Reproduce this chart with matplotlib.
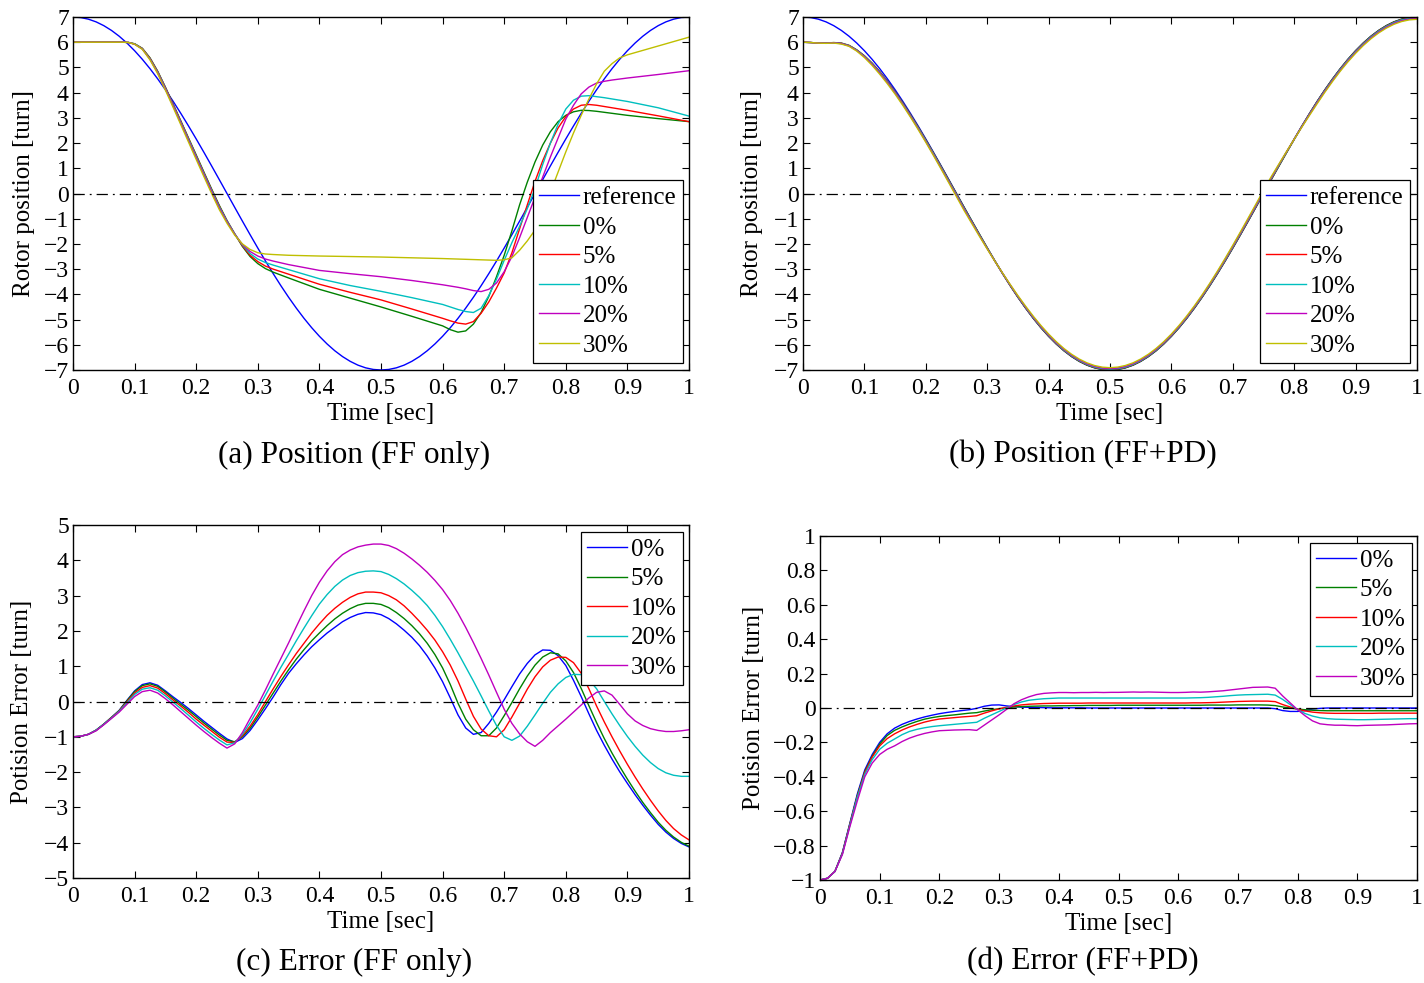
import matplotlib
matplotlib.use("Agg")
import matplotlib.pyplot as plt
import numpy as np

plt.rcParams['font.family'] = ['Liberation Serif', 'DejaVu Serif']

# MATLAB default colours
MB = (0, 0, 1)
MG = (0, 0.5, 0)
MR = (1, 0, 0)
MC = (0, 0.75, 0.75)
MM = (0.75, 0, 0.75)
MY = (0.75, 0.75, 0)

pct_labels = ['0%', '5%', '10%', '20%', '30%']

# time grid (0.0125 s) used by the reference and panels (b)-(d)
t_fine = [i * 0.0125 for i in range(81)]

# reference trajectory read from (a)/(b)
ref = [7.0, 6.978, 6.914, 6.807, 6.657, 6.467, 6.237, 5.968, 5.663, 5.323,
       4.95, 4.546, 4.115, 3.658, 3.178, 2.679, 2.163, 1.634, 1.095, 0.549,
       0.0, -0.549, -1.095, -1.634, -2.163, -2.679, -3.178, -3.658, -4.115, -4.546,
       -4.95, -5.323, -5.663, -5.968, -6.237, -6.467, -6.657, -6.807, -6.914, -6.978,
       -7.0, -6.978, -6.914, -6.807, -6.657, -6.467, -6.237, -5.968, -5.663, -5.323,
       -4.95, -4.546, -4.115, -3.658, -3.178, -2.679, -2.163, -1.634, -1.095, -0.549,
       0.0, 0.549, 1.095, 1.634, 2.163, 2.679, 3.178, 3.658, 4.115, 4.546,
       4.95, 5.323, 5.663, 5.968, 6.237, 6.467, 6.657, 6.807, 6.914, 6.978, 7.0]

# ---- (a) position, FF only ----
t_a = [0, 0.05, 0.08, 0.09, 0.1, 0.1125, 0.125, 0.1375, 0.15, 0.1625,
       0.175, 0.1875, 0.2, 0.2125, 0.225, 0.2375, 0.25, 0.2625, 0.275, 0.2875,
       0.3, 0.3125, 0.325, 0.35, 0.4, 0.45, 0.5, 0.55, 0.6, 0.6125,
       0.625, 0.6375, 0.65, 0.6625, 0.675, 0.6875, 0.7, 0.7125, 0.725, 0.7375,
       0.75, 0.7625, 0.775, 0.7875, 0.8, 0.8125, 0.825, 0.8375, 0.85, 0.8625,
       0.875, 0.8875, 0.9, 0.95, 1.0]
pos_ff_0 = [6.0, 6.0, 6.0, 5.99, 5.94, 5.76, 5.38, 4.85, 4.22, 3.55,
            2.88, 2.2, 1.53, 0.85, 0.18, -0.47, -1.07, -1.6, -2.1, -2.5,
            -2.78, -2.98, -3.12, -3.35, -3.8, -4.15, -4.5, -4.87, -5.25, -5.4,
            -5.5, -5.45, -5.18, -4.72, -4.08, -3.3, -2.45, -1.48, -0.45, 0.45,
            1.25, 1.92, 2.45, 2.85, 3.1, 3.24, 3.3, 3.29, 3.26, 3.22,
            3.18, 3.14, 3.1, 2.97, 2.85]
pos_ff_5 = [6.0, 6.0, 6.0, 5.99, 5.93, 5.75, 5.36, 4.83, 4.2, 3.53,
            2.86, 2.18, 1.5, 0.82, 0.15, -0.5, -1.09, -1.6, -2.07, -2.45,
            -2.7, -2.88, -3.0, -3.2, -3.6, -3.92, -4.22, -4.58, -4.95, -5.05,
            -5.14, -5.18, -5.08, -4.75, -4.3, -3.75, -3.15, -2.35, -1.4, -0.45,
            0.48, 1.3, 2.0, 2.6, 3.05, 3.35, 3.5, 3.53, 3.5, 3.45,
            3.4, 3.35, 3.3, 3.08, 2.85]
pos_ff_10 = [6.0, 6.0, 6.0, 5.99, 5.93, 5.74, 5.34, 4.81, 4.18, 3.5,
             2.83, 2.15, 1.47, 0.79, 0.12, -0.53, -1.1, -1.6, -2.04, -2.38,
             -2.6, -2.74, -2.84, -3.02, -3.38, -3.65, -3.88, -4.13, -4.4, -4.5,
             -4.6, -4.68, -4.72, -4.55, -4.05, -3.4, -2.65, -1.95, -1.3, -0.6,
             0.2, 1.15, 2.0, 2.75, 3.35, 3.7, 3.86, 3.88, 3.84, 3.8,
             3.75, 3.7, 3.65, 3.4, 3.07]
pos_ff_20 = [6.0, 6.0, 6.0, 5.99, 5.92, 5.73, 5.32, 4.78, 4.15, 3.47,
             2.79, 2.1, 1.42, 0.74, 0.07, -0.58, -1.13, -1.62, -2.02, -2.3,
             -2.48, -2.6, -2.68, -2.82, -3.05, -3.18, -3.3, -3.45, -3.62, -3.67,
             -3.72, -3.78, -3.85, -3.89, -3.8, -3.55, -3.1, -2.5, -1.75, -0.95,
             -0.15, 0.65, 1.45, 2.2, 2.95, 3.5, 3.95, 4.22, 4.38, 4.45,
             4.5, 4.54, 4.58, 4.72, 4.87]
pos_ff_30 = [6.0, 6.0, 6.0, 5.99, 5.92, 5.72, 5.3, 4.75, 4.1, 3.42,
             2.73, 2.04, 1.35, 0.67, 0.0, -0.64, -1.18, -1.65, -2.0, -2.22,
             -2.35, -2.4, -2.42, -2.45, -2.48, -2.5, -2.52, -2.55, -2.58, -2.59,
             -2.6, -2.61, -2.62, -2.63, -2.64, -2.65, -2.63, -2.55, -2.25, -1.88,
             -1.45, -0.75, 0.05, 0.85, 1.65, 2.4, 3.1, 3.75, 4.35, 4.85,
             5.15, 5.38, 5.5, 5.85, 6.2]

# ---- (c) error, FF only (t_fine) ----
err_ff_0 = [-1.0, -0.985, -0.93, -0.81, -0.64, -0.45, -0.25, 0.03, 0.3, 0.48,
            0.53, 0.46, 0.3, 0.13, -0.03, -0.2, -0.38, -0.56, -0.73, -0.9,
            -1.06, -1.16, -1.05, -0.82, -0.52, -0.2, 0.13, 0.48, 0.8, 1.07,
            1.32, 1.55, 1.75, 1.94, 2.1, 2.26, 2.38, 2.47, 2.52, 2.51,
            2.46, 2.35, 2.2, 2.02, 1.82, 1.58, 1.29, 0.95, 0.56, 0.1,
            -0.38, -0.75, -0.93, -0.88, -0.62, -0.3, 0.05, 0.42, 0.78, 1.08,
            1.32, 1.46, 1.45, 1.3, 1.02, 0.6, 0.14, -0.35, -0.82, -1.24,
            -1.63, -1.99, -2.32, -2.64, -2.94, -3.22, -3.48, -3.7, -3.88, -4.02, -4.12]
err_ff_5 = [-1.0, -0.985, -0.93, -0.81, -0.64, -0.45, -0.26, 0.02, 0.28, 0.45,
            0.5, 0.43, 0.27, 0.09, -0.08, -0.25, -0.43, -0.61, -0.78, -0.95,
            -1.1, -1.14, -1.0, -0.76, -0.44, -0.1, 0.24, 0.58, 0.9, 1.2,
            1.47, 1.72, 1.94, 2.15, 2.34, 2.5, 2.63, 2.73, 2.78, 2.78,
            2.75, 2.66, 2.52, 2.35, 2.15, 1.92, 1.65, 1.33, 0.95, 0.48,
            -0.05, -0.5, -0.8, -0.97, -0.97, -0.75, -0.4, -0.03, 0.36, 0.72,
            1.03, 1.26, 1.38, 1.35, 1.15, 0.82, 0.37, -0.12, -0.6, -1.05,
            -1.46, -1.84, -2.2, -2.54, -2.86, -3.15, -3.42, -3.65, -3.84, -3.99, -4.1]
err_ff_10 = [-1.0, -0.985, -0.93, -0.82, -0.65, -0.46, -0.27, -0.01, 0.24, 0.4,
             0.45, 0.38, 0.22, 0.04, -0.13, -0.31, -0.5, -0.67, -0.84, -1.01,
             -1.15, -1.16, -0.97, -0.7, -0.37, 0.0, 0.36, 0.71, 1.04, 1.36,
             1.65, 1.94, 2.2, 2.44, 2.64, 2.81, 2.95, 3.05, 3.1, 3.1,
             3.08, 3.0, 2.88, 2.71, 2.5, 2.27, 2.02, 1.74, 1.41, 1.03,
             0.58, 0.07, -0.42, -0.78, -0.97, -1.0, -0.8, -0.44, -0.05, 0.35,
             0.7, 0.98, 1.17, 1.26, 1.25, 1.1, 0.8, 0.36, -0.13, -0.58,
             -1.0, -1.4, -1.78, -2.14, -2.48, -2.8, -3.1, -3.37, -3.6, -3.78, -3.92]
err_ff_20 = [-1.0, -0.985, -0.93, -0.82, -0.65, -0.47, -0.28, -0.04, 0.2, 0.35,
             0.39, 0.32, 0.16, -0.02, -0.2, -0.39, -0.58, -0.76, -0.93, -1.09,
             -1.23, -1.17, -0.93, -0.6, -0.22, 0.18, 0.58, 0.97, 1.34, 1.72,
             2.08, 2.43, 2.76, 3.03, 3.26, 3.44, 3.57, 3.65, 3.69, 3.7,
             3.68, 3.6, 3.48, 3.33, 3.15, 2.95, 2.72, 2.44, 2.12, 1.76,
             1.38, 0.98, 0.58, 0.16, -0.27, -0.68, -1.0, -1.1, -0.98, -0.7,
             -0.38, -0.05, 0.26, 0.5, 0.68, 0.77, 0.76, 0.62, 0.36, 0.0,
             -0.35, -0.68, -0.99, -1.27, -1.52, -1.73, -1.9, -2.02, -2.09, -2.12, -2.12]
err_ff_30 = [-1.0, -0.985, -0.93, -0.83, -0.66, -0.48, -0.3, -0.08, 0.14, 0.28,
             0.32, 0.24, 0.08, -0.1, -0.29, -0.48, -0.67, -0.85, -1.02, -1.18,
             -1.32, -1.2, -0.88, -0.48, -0.1, 0.33, 0.78, 1.22, 1.66, 2.12,
             2.57, 3.0, 3.38, 3.7, 3.96, 4.16, 4.29, 4.38, 4.43, 4.46,
             4.46, 4.42, 4.33, 4.2, 4.04, 3.86, 3.66, 3.43, 3.17, 2.86,
             2.5, 2.1, 1.67, 1.22, 0.75, 0.26, -0.22, -0.62, -0.92, -1.14,
             -1.27, -1.1, -0.88, -0.69, -0.5, -0.3, -0.1, 0.1, 0.26, 0.3,
             0.18, -0.08, -0.35, -0.55, -0.68, -0.77, -0.82, -0.85, -0.85, -0.83, -0.8]

# ---- (d) error, FF+PD (t_fine) ----
err_pd_0 = [-1.0, -0.99, -0.95, -0.84, -0.67, -0.5, -0.36, -0.27, -0.2, -0.15,
            -0.117, -0.095, -0.078, -0.064, -0.052, -0.042, -0.033, -0.026, -0.02, -0.015,
            -0.01, -0.002, 0.01, 0.017, 0.018, 0.012, 0.008, 0.005, 0.004, 0.003,
            0.002, 0.001, 0.001, 0.001, 0.001, 0.001, 0.0, 0.0, 0.0, 0.0,
            0.0, 0.0, 0.0, 0.0, 0.0, 0.0, 0.0, 0.0, 0.0, 0.0,
            0.0, 0.0, 0.0, 0.0, 0.0, 0.0, 0.0, 0.0, 0.0, 0.0,
            0.0, -0.004, -0.015, -0.02, -0.02, -0.015, -0.006, -0.002, 0.0, 0.0,
            0.0, 0.0, 0.0, 0.0, 0.0, 0.0, 0.0, 0.0, 0.0, 0.0, 0.0]
err_pd_5 = [-1.0, -0.99, -0.95, -0.843, -0.675, -0.51, -0.37, -0.28, -0.21, -0.16,
            -0.13, -0.11, -0.093, -0.078, -0.065, -0.056, -0.049, -0.044, -0.04, -0.035,
            -0.03, -0.027, -0.018, -0.01, -0.004, 0.001, 0.006, 0.008, 0.01, 0.011,
            0.012, 0.012, 0.013, 0.013, 0.014, 0.014, 0.015, 0.015, 0.015, 0.015,
            0.016, 0.016, 0.016, 0.016, 0.016, 0.016, 0.016, 0.016, 0.016, 0.016,
            0.016, 0.016, 0.017, 0.017, 0.017, 0.017, 0.018, 0.018, 0.018, 0.018,
            0.017, 0.014, 0.006, 0.0, -0.006, -0.01, -0.013, -0.015, -0.016, -0.016,
            -0.016, -0.016, -0.016, -0.016, -0.016, -0.016, -0.016, -0.016, -0.016, -0.016, -0.016]
err_pd_10 = [-1.0, -0.99, -0.95, -0.845, -0.678, -0.515, -0.375, -0.285, -0.22, -0.178,
             -0.15, -0.128, -0.11, -0.095, -0.082, -0.072, -0.064, -0.06, -0.056, -0.052,
             -0.049, -0.045, -0.03, -0.017, -0.005, 0.004, 0.012, 0.018, 0.022, 0.024,
             0.026, 0.027, 0.028, 0.028, 0.028, 0.028, 0.029, 0.029, 0.029, 0.029,
             0.029, 0.029, 0.029, 0.029, 0.029, 0.029, 0.029, 0.029, 0.029, 0.029,
             0.03, 0.03, 0.031, 0.032, 0.034, 0.036, 0.038, 0.039, 0.04, 0.04,
             0.04, 0.037, 0.02, 0.006, -0.008, -0.017, -0.024, -0.028, -0.03, -0.031,
             -0.031, -0.031, -0.031, -0.031, -0.031, -0.03, -0.03, -0.03, -0.03, -0.03, -0.03]
err_pd_20 = [-1.0, -0.99, -0.95, -0.848, -0.683, -0.52, -0.385, -0.3, -0.24, -0.205,
             -0.18, -0.155, -0.136, -0.124, -0.115, -0.108, -0.103, -0.099, -0.095, -0.091,
             -0.087, -0.083, -0.06, -0.04, -0.02, 0.0, 0.02, 0.035, 0.045, 0.05,
             0.054, 0.056, 0.058, 0.058, 0.058, 0.058, 0.058, 0.058, 0.058, 0.058,
             0.058, 0.058, 0.058, 0.058, 0.058, 0.058, 0.058, 0.058, 0.058, 0.058,
             0.059, 0.06, 0.062, 0.065, 0.068, 0.072, 0.075, 0.077, 0.078, 0.079,
             0.08, 0.075, 0.05, 0.02, -0.01, -0.032, -0.047, -0.057, -0.062, -0.065,
             -0.066, -0.067, -0.068, -0.068, -0.067, -0.066, -0.065, -0.064, -0.063, -0.062, -0.062]
err_pd_30 = [-1.0, -0.99, -0.95, -0.852, -0.69, -0.54, -0.40, -0.32, -0.27, -0.24,
             -0.22, -0.195, -0.175, -0.16, -0.148, -0.139, -0.132, -0.13, -0.128, -0.127,
             -0.126, -0.13, -0.1, -0.07, -0.04, -0.008, 0.025, 0.048, 0.065, 0.078,
             0.085, 0.088, 0.09, 0.09, 0.089, 0.09, 0.09, 0.091, 0.09, 0.091,
             0.091, 0.092, 0.093, 0.092, 0.093, 0.092, 0.091, 0.09, 0.09, 0.091,
             0.093, 0.092, 0.094, 0.097, 0.1, 0.105, 0.11, 0.115, 0.12, 0.121,
             0.122, 0.115, 0.07, 0.03, -0.01, -0.045, -0.075, -0.092, -0.097, -0.1,
             -0.1, -0.102, -0.103, -0.101, -0.1, -0.099, -0.098, -0.096, -0.094, -0.092, -0.091]

err_pd = [err_pd_0, err_pd_5, err_pd_10, err_pd_20, err_pd_30]
# (b) is the reference plus the FF+PD tracking error of (d)
pos_pd = [np.add(ref, e) for e in err_pd]

y_ticks_d = [-1, -0.8, -0.6, -0.4, -0.2, 0, 0.2, 0.4, 0.6, 0.8, 1]

TICK_FS = 17
LABEL_FS = 18
LEG_FS = 18
CAP_FS = 22.5
LW = 1.0


def num_fmt(v):
    s = f'{v:g}'
    return s.replace('-', '\u2212')


def style(ax, ylim, yticks, ylabel, ylab_x, xlab_y=-0.094):
    ax.set_xlim(0, 1)
    ax.set_ylim(*ylim)
    xt = [0, 0.1, 0.2, 0.3, 0.4, 0.5, 0.6, 0.7, 0.8, 0.9, 1]
    ax.set_xticks(xt)
    ax.set_xticklabels([num_fmt(v) for v in xt])
    ax.set_yticks(yticks)
    ax.set_yticklabels([num_fmt(v) for v in yticks])
    ax.tick_params(direction='in', top=True, right=True, length=5, width=0.8,
                   labelsize=TICK_FS, colors='black')
    ax.tick_params(axis='x', pad=6)
    ax.tick_params(axis='y', pad=3)
    for sp in ax.spines.values():
        sp.set_linewidth(1.0)
    ax.set_xlabel('Time [sec]', fontsize=LABEL_FS)
    ax.xaxis.set_label_coords(0.5, xlab_y)
    ax.xaxis.label.set_va('top')
    ax.set_ylabel(ylabel, fontsize=LABEL_FS)
    ax.yaxis.set_label_coords(ylab_x, 0.5)
    ax.axhline(0, color='black', lw=0.9, dashes=(9, 4, 1.5, 4), zorder=3)


def legend(ax, loc, anchor):
    lg = ax.legend(loc=loc, bbox_to_anchor=anchor, borderaxespad=0, fontsize=LEG_FS,
                   fancybox=False, framealpha=1, edgecolor='black', handlelength=1.6,
                   handletextpad=0.15, labelspacing=0.28, borderpad=0.25)
    lg.get_frame().set_linewidth(0.9)
    lg.set_zorder(10)


W, H = 1424, 983
fig = plt.figure(figsize=(W / 100, H / 100), dpi=100)


def box(l, t, r, b):
    return [l / W, 1 - b / H, (r - l) / W, (b - t) / H]


ax_a = fig.add_axes(box(73, 17, 689, 370))
ax_b = fig.add_axes(box(803, 17, 1417, 370))
ax_c = fig.add_axes(box(73, 525, 689, 878))
ax_d = fig.add_axes(box(820, 536, 1417, 880))

pos_colors = [MG, MR, MC, MM, MY]
err_colors = [MB, MG, MR, MC, MM]

# (a)
ax_a.plot(t_fine, ref, color=MB, lw=LW, label='reference')
for y, c, lab in zip([pos_ff_0, pos_ff_5, pos_ff_10, pos_ff_20, pos_ff_30],
                     pos_colors, pct_labels):
    ax_a.plot(t_a, y, color=c, lw=LW, label=lab)
style(ax_a, (-7, 7), list(range(-7, 8)), 'Rotor position [turn]', -0.062)
legend(ax_a, 'lower right', (0.990, 0.020))

# (b)
ax_b.plot(t_fine, ref, color=MB, lw=LW, label='reference')
for y, c, lab in zip(pos_pd, pos_colors, pct_labels):
    ax_b.plot(t_fine, y, color=c, lw=LW, label=lab)
style(ax_b, (-7, 7), list(range(-7, 8)), 'Rotor position [turn]', -0.065)
legend(ax_b, 'lower right', (0.988, 0.020))

# (c)
for y, c, lab in zip([err_ff_0, err_ff_5, err_ff_10, err_ff_20, err_ff_30],
                     err_colors, pct_labels):
    ax_c.plot(t_fine, y, color=c, lw=LW, label=lab)
style(ax_c, (-5, 5), list(range(-5, 6)), 'Potision Error [turn]', -0.065)
legend(ax_c, 'upper right', (0.990, 0.980))

# (d)
for y, c, lab in zip(err_pd, err_colors, pct_labels):
    ax_d.plot(t_fine, y, color=c, lw=LW, label=lab)
style(ax_d, (-1, 1), y_ticks_d, 'Potision Error [turn]', -0.092, xlab_y=-0.095)
legend(ax_d, 'upper right', (0.9917, 0.980))

fig.text(354 / W, 1 - 455 / H, '(a) Position (FF only)', ha='center', va='center', fontsize=CAP_FS)
fig.text(1083 / W, 1 - 455 / H, '(b) Position (FF+PD)', ha='center', va='center', fontsize=CAP_FS)
fig.text(354 / W, 1 - 962 / H, '(c) Error (FF only)', ha='center', va='center', fontsize=CAP_FS)
fig.text(1083 / W, 1 - 962 / H, '(d) Error (FF+PD)', ha='center', va='center', fontsize=CAP_FS)

fig.savefig('out.png', dpi=100)
